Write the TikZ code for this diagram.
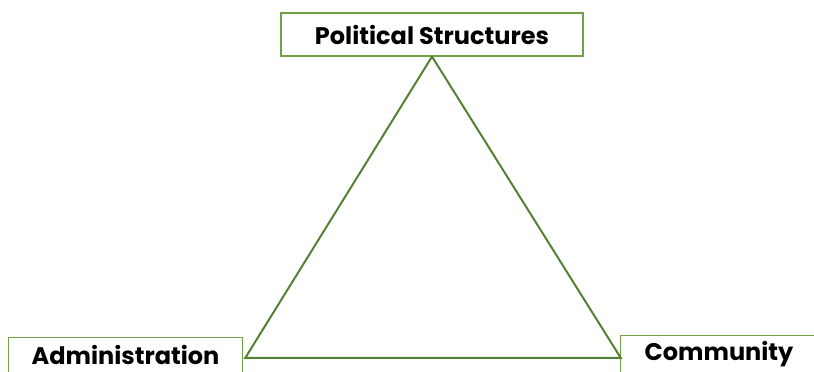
\documentclass[tikz,border=0pt]{standalone}
\usepackage{fontspec}
\setmainfont{Poppins}
\usetikzlibrary{positioning}
\definecolor{colEdge}{RGB}{84,130,53}
\definecolor{colBox} {RGB}{112,160,72}
\tikzset{
  label/.style = {minimum height=43pt, inner sep=0pt,
                  font=\fontsize{24}{28}\selectfont\bfseries},
  base/.style  = {label, draw=colBox, line width=1.2pt, fill=white},
  frame/.style = {draw=colBox, line width=1.2pt},
  edge/.style  = {draw=colEdge, line width=2pt},
}
\begin{document}
\begin{tikzpicture}[x=1pt, y=1pt]
\useasboundingbox (0,0) rectangle (814,372);

%% ── boxes ───────────────────────────────────────────────────────────────────
\node[base, minimum width=302pt] (pol) at (432,337.5) {Political Structures};
\node[label, minimum width=233pt, minimum height=34pt] (adm) at (125.5,17) {Administration};
\node[label, minimum width=196pt, minimum height=36pt] (com) at (719,18) {Community};

% bottom boxes run off the lower edge: no bottom line
\draw[frame] (adm.south west) |- (adm.north east) -- (adm.south east);
\draw[frame] (com.south west) |- (com.north east) -- (com.south east);

%% ── triangle ────────────────────────────────────────────────────────────────
\draw[edge] (pol.south) -- ([xshift=3pt, yshift=-3pt]adm.east)
  -- ([yshift=-4pt]com.west) -- cycle;

\end{tikzpicture}
\end{document}
